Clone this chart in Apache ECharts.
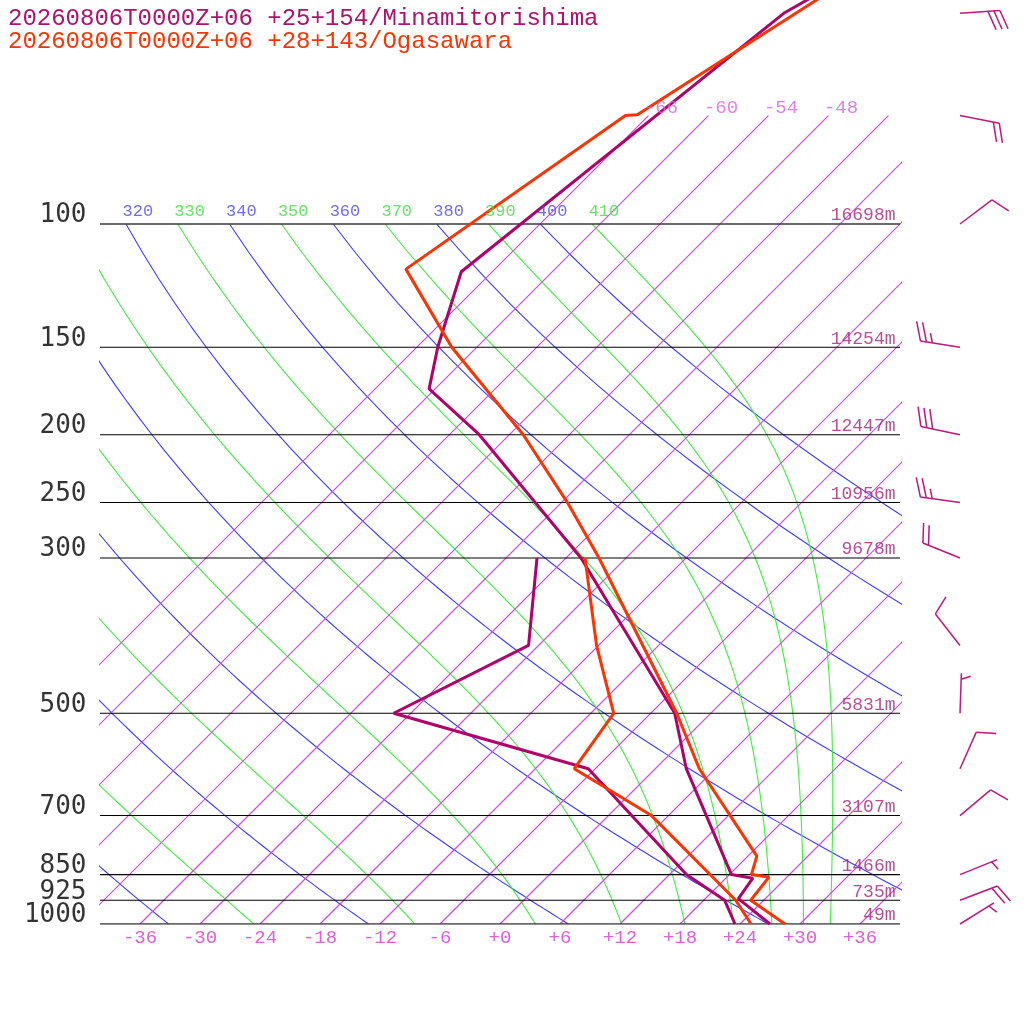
<!DOCTYPE html>
<html>
<head>
<meta charset="utf-8">
<script src="https://cdn.jsdelivr.net/npm/echarts@6/dist/echarts.min.js"></script>
<style>
  html, body { margin: 0; padding: 0; background: #fff; }
  #chart { width: 1024px; height: 1024px; }
</style>
</head>
<body>
<div id="chart"></div>
<script>
// sounding values (hPa, degC)
var minamiTempP = [1000, 920, 860, 850, 600, 500, 300, 200, 172, 150, 117, 50, 45];
var minamiTemp  = [27.0, 21.3, 20.7, 18.2, 3.1, -3.6, -28.5, -51.0, -60.6, -63.9, -69.1, -62.7, -60.3];
var minamiDewP  = [1000, 925, 850, 600, 500, 400, 300];
var minamiDew   = [23.5, 20.1, 13.7, -6.7, -31.7, -25.0, -32.9];

var ogaTempP = [1000, 925, 857, 850, 800, 600, 500, 300, 250, 200, 150, 116, 70, 69.8, 50, 45];
var ogaTemp  = [28.5, 22.7, 22.2, 20.2, 18.9, 4.4, -3.4, -26.7, -35.4, -46.6, -62.5, -74.9, -68.3, -67.2, -61.5, -59.7];
var ogaDewP  = [1000, 925, 700, 600, 500, 400, 300];
var ogaDew   = [25.1, 21.2, 4.3, -8.1, -9.7, -18.2, -28.1];

// winds at Minamitorishima (deg, kt)
var windP   = [50, 70, 100, 150, 200, 250, 300, 400, 500, 600, 700, 850, 925, 1000];
var windDir = [86, 101, 53, 279, 282, 278, 292, 322, 2, 24, 50, 68, 69, 58];
var windSpd = [30, 20, 10, 25, 30, 25, 20, 10, 5, 10, 10, 5, 20, 5];

// isobars and their heights
var isoP = [100, 150, 200, 250, 300, 500, 700, 850, 925, 1000];
var isoH = [16698, 14254, 12447, 10956, 9678, 5831, 3107, 1466, 735, 49];

// background lines
var isotherms = [-66, -60, -54, -48, -42, -36, -30, -24, -18, -12, -6, 0, 6, 12, 18, 24, 30, 36];
var dryThetas = [240, 260, 280, 300, 320, 340, 360, 380, 400];
var moistThetas = [250, 270, 290, 310, 330, 350, 370, 390, 410];
var tempTicks = [-36, -30, -24, -18, -12, -6, 0, 6, 12, 18, 24, 30, 36];

var P_TOP = 47.86;   // pressure at top edge of the plot
var SKEW = 70;       // x units per decade of pressure
var K = 0.2857;

var MAGENTA = '#b0006a';
var ORANGE = '#ff3300';
var ISO_COL = '#d048e4';
var MONO = 'Liberation Mono';

function skewX(t, p) { return t + SKEW * Math.log10(1000 / p); }

function profile(ps, ts) {
  return ps.map(function (p, i) { return [skewX(ts[i], p), p]; });
}

function dryLine(theta) {
  var pts = [];
  for (var p = 100; p <= 1000; p += 10) {
    pts.push([skewX(theta * Math.pow(p / 1000, K) - 273.15, p), p]);
  }
  return pts;
}

function dTdp(T, p) {
  var es = 6.112 * Math.exp(17.67 * (T - 273.15) / (T - 29.65));
  var rs = 0.622 * es / (p - es);
  var L = 2.501e6;
  var num = (287.04 * T + L * rs) / p;
  var den = 1005.7 + L * L * rs * 0.622 / (287.04 * T * T);
  return num / den;
}

function moistLine(theta) {
  var p = 100, T = theta * Math.pow(0.1, K), dp = 2;
  var pts = [[skewX(T - 273.15, p), p]];
  var n = 0;
  while (p < 1000) {
    var k1 = dTdp(T, p);
    var k2 = dTdp(T + k1 * dp / 2, p + dp / 2);
    T += k2 * dp;
    p += dp;
    n++;
    if (n % 5 === 0) pts.push([skewX(T - 273.15, p), p]);
  }
  return pts;
}

var series = [];

function addLine(data, color, width, z) {
  series.push({
    type: 'line', data: data, showSymbol: false, symbol: 'none', silent: true,
    animation: false, clip: true, z: z, xAxisIndex: 0, yAxisIndex: 0,
    itemStyle: { color: color },
    lineStyle: { color: color, width: width, opacity: 1 }
  });
}

function addLabels(items, style) {
  series.push({
    type: 'scatter', data: items, symbolSize: 1, silent: true, animation: false,
    clip: false, z: 6, xAxisIndex: 0, yAxisIndex: 0,
    itemStyle: { color: 'rgba(0,0,0,0)' },
    label: Object.assign({ show: true, formatter: '{b}', fontFamily: MONO }, style)
  });
}

var thetaLabels = [];
dryThetas.forEach(function (th) {
  var d = dryLine(th);
  addLine(d, '#3c3cff', 1.1, 1);
  if (d[0][0] >= -40) thetaLabels.push({ name: String(th), value: d[0], label: { color: '#4848f4' } });
});
moistThetas.forEach(function (th) {
  var d = moistLine(th);
  addLine(d, '#3cf03c', 1.1, 1);
  if (d[0][0] >= -40) thetaLabels.push({ name: String(th), value: d[0], label: { color: '#3ee03e' } });
});

// isotherms from 1000 up to 70 hPa
var isoLabels = [];
isotherms.forEach(function (t) {
  addLine([[skewX(t, 1000), 1000], [skewX(t, 70), 70]], ISO_COL, 1.2, 1);
  var xt = skewX(t, 70);
  if (xt >= -40 && xt + 3.5 <= 40) isoLabels.push({ name: String(t), value: [xt, 70] });
});

// isobars
isoP.forEach(function (p) {
  var edge = p === 100 || p === 1000;
  addLine([[-40, p], [40, p]], edge ? '#3a3a3a' : '#000', edge ? 1.6 : 1.1, 2);
});

// profiles
addLine(profile(minamiDewP, minamiDew), MAGENTA, 3, 3);
addLine(profile(minamiTempP, minamiTemp), MAGENTA, 3, 3);
addLine(profile(ogaDewP, ogaDew), ORANGE, 3, 4);
addLine(profile(ogaTempP, ogaTemp), ORANGE, 3, 4);

addLabels(isoLabels, { position: [-4, -7], align: 'left', verticalAlign: 'middle', fontSize: 19, color: '#dd5fdd' });
addLabels(thetaLabels, { position: [-3, -12], align: 'left', verticalAlign: 'middle', fontSize: 17 });
addLabels(isoP.map(function (p) { return { name: String(p), value: [-40, p] }; }),
  { position: [-13, -8], align: 'right', verticalAlign: 'middle', fontSize: 26, fontFamily: 'DejaVu Sans Mono', color: '#000' });
addLabels(isoP.map(function (p, i) { return { name: isoH[i] + 'm', value: [40, p] }; }),
  { position: [-4, -8], align: 'right', verticalAlign: 'middle', fontSize: 18, color: '#a8207a' });

// wind barbs
series.push({
  type: 'custom', xAxisIndex: 1, yAxisIndex: 1, silent: true, animation: false, clip: false, z: 5,
  data: windP.map(function (p, i) { return [0, p, windDir[i], windSpd[i]]; }),
  renderItem: function (params, api) {
    var base = api.coord([api.value(0), api.value(1)]);
    var dir = api.value(2) * Math.PI / 180, spd = api.value(3);
    var ux = Math.sin(dir), uy = -Math.cos(dir);
    var tip = [base[0] + ux * 40, base[1] + uy * 40];
    var a = Math.atan2(uy, ux) + 70 * Math.PI / 180;
    var bx = Math.cos(a), by = Math.sin(a);
    var style = { stroke: '#c0187a', lineWidth: 1.5 };
    var kids = [{ type: 'line', shape: { x1: base[0], y1: base[1], x2: tip[0], y2: tip[1] }, style: style }];
    var full = Math.floor(spd / 10), half = spd % 10 >= 5 ? 1 : 0;
    var pos = (full === 0 && half) ? 1 : 0;
    function barb(len) {
      var sx = tip[0] - ux * 6 * pos, sy = tip[1] - uy * 6 * pos;
      kids.push({ type: 'line', shape: { x1: sx, y1: sy, x2: sx + bx * len, y2: sy + by * len }, style: style });
      pos++;
    }
    for (var i = 0; i < full; i++) barb(20);
    if (half) barb(10);
    return { type: 'group', children: kids };
  }
});

var chart = echarts.init(document.getElementById('chart'));
chart.setOption({
  backgroundColor: '#fff',
  animation: false,
  title: [
    { text: '20260806T0000Z+06 +25+154/Minamitorishima', left: 8, top: 7, padding: 0,
      textStyle: { color: '#b0106e', fontFamily: MONO, fontSize: 24, fontWeight: 'normal' } },
    { text: '20260806T0000Z+06 +28+143/Ogasawara', left: 8, top: 30, padding: 0,
      textStyle: { color: ORANGE, fontFamily: MONO, fontSize: 24, fontWeight: 'normal' } }
  ],
  grid: [
    { left: 100, right: 124, top: 0, bottom: 100, outerBoundsMode: 'none' },
    { left: 940, width: 40, top: 0, bottom: 100, outerBoundsMode: 'none' }
  ],
  xAxis: [
    { type: 'value', gridIndex: 0, min: -40, max: 40,
      axisLine: { show: false }, axisTick: { show: false }, splitLine: { show: false },
      axisLabel: {
        customValues: tempTicks, margin: 4, color: '#dd5fdd', fontFamily: MONO, fontSize: 19,
        formatter: function (v) { return v >= 0 ? '+' + v : String(v); }
      } },
    { type: 'value', gridIndex: 1, min: -1, max: 1, show: false }
  ],
  yAxis: [
    { type: 'log', gridIndex: 0, min: P_TOP, max: 1000, inverse: true, show: false },
    { type: 'log', gridIndex: 1, min: P_TOP, max: 1000, inverse: true, show: false }
  ],
  series: series
});
</script>
</body>
</html>
